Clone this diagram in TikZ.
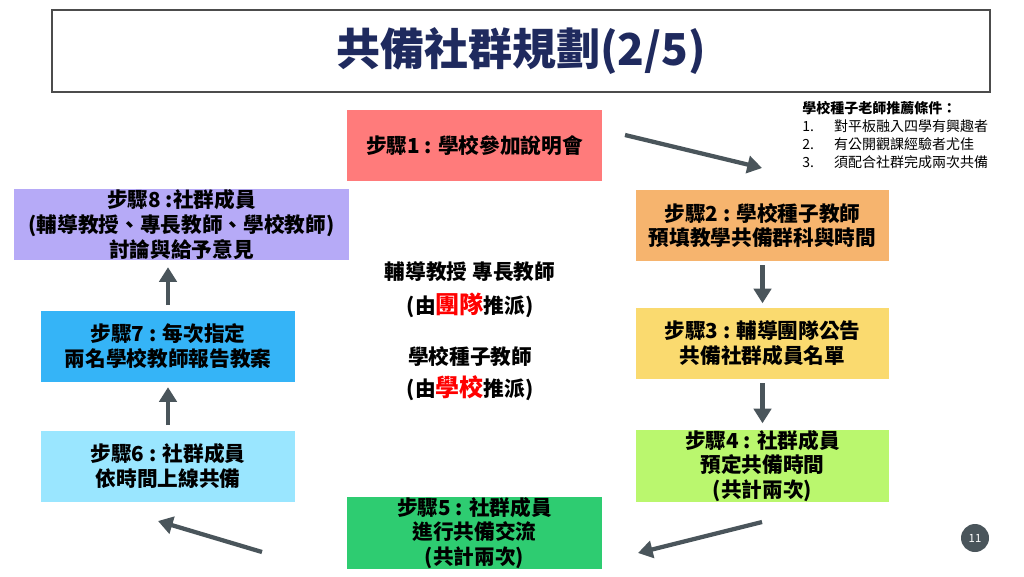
\documentclass[tikz,border=0pt]{standalone}
\usepackage{fontspec}
\setmainfont{Noto Sans CJK TC}
\usetikzlibrary{arrows.meta}
\definecolor{navy}{HTML}{1F2A5E}
\definecolor{arr}{HTML}{4A555B}
\definecolor{c1}{HTML}{FF7B7B}
\definecolor{c2}{HTML}{F6B46E}
\definecolor{c3}{HTML}{FADA6F}
\definecolor{c4}{HTML}{BAF76E}
\definecolor{c5}{HTML}{2ECC71}
\definecolor{c6}{HTML}{9AE6FF}
\definecolor{c7}{HTML}{35B4F7}
\definecolor{c8}{HTML}{B6AAF7}
\tikzset{
 stepbox/.style={minimum width=#1*0.75pt, minimum height=71*0.75pt, inner sep=0pt, align=center, font=\fontsize{15.5}{18.5}\selectfont\bfseries},
 conn/.style={draw=arr, line width=3.2pt, -{Triangle[length=11pt,width=13pt]}},
 ctext/.style={font=\fontsize{15.5}{18}\selectfont\bfseries}
}
\begin{document}
\begin{tikzpicture}[x=0.75pt,y=-0.75pt]
\useasboundingbox (0,0) rectangle (1024,576);
\fill[white] (0,0) rectangle (1024,576);
\draw[line width=1.2pt, draw=black!70] (52,10) rectangle (990,92);
\node[font=\fontsize{33}{36}\selectfont\bfseries, text=navy] (title) at (521,51) {共備社群規劃(2/5)};
\node[stepbox=255, fill=c1] (s1) at (474.5,145.5) {步驟1 : 學校參加說明會};
\node[stepbox=253, fill=c2] (s2) at (762.5,225.5) {步驟2 : 學校種子教師\\預填教學共備群科與時間};
\node[stepbox=253, fill=c3] (s3) at (762.5,343.5) {步驟3 : 輔導團隊公告\\共備社群成員名單};
\node[stepbox=253, fill=c4] (s4) at (762.5,466) {步驟4 : 社群成員\\預定共備時間\\(共計兩次)};
\node[stepbox=255, fill=c5] (s5) at (474.5,533) {步驟5 : 社群成員\\進行共備交流\\(共計兩次)};
\node[stepbox=254, fill=c6] (s6) at (168,466) {步驟6 : 社群成員\\依時間上線共備};
\node[stepbox=254, fill=c7] (s7) at (168,346) {步驟7 : 每次指定\\兩名學校教師報告教案};
\node[stepbox=335, fill=c8] (s8) at (181.5,224.5) {步驟8 :社群成員\\(輔導教授、專長教師、學校教師)\\討論與給予意見};
\coordinate (a1) at (625,135); \coordinate (b1) at (762,168);
\draw[conn] (a1) -- (b1);
\draw[conn] (s2.south) ++(0,4) -- ++(0,38);
\draw[conn] (s3.south) ++(0,4) -- ++(0,40);
\coordinate (a4) at (762,522); \coordinate (b4) at (638,553);
\draw[conn] (a4) -- (b4);
\coordinate (a5) at (262,552); \coordinate (b5) at (158,521);
\draw[conn] (a5) -- (b5);
\draw[conn] (s6.north) ++(0,-5) -- ++(0,-38);
\draw[conn] (s7.north) ++(0,-5) -- ++(0,-38);
\node[ctext] (t1) at (470,272) {輔導教授 專長教師};
\node[ctext] (t2) at (470,305) {(由{\color{red}\fontsize{18}{20}\selectfont 團隊}推派)};
\node[ctext] (t3) at (470,357) {學校種子教師};
\node[ctext] (t4) at (470,388) {(由{\color{red}\fontsize{18}{20}\selectfont 學校}推派)};
\node[anchor=north west, align=left, font=\fontsize{10.5}{13.5}\selectfont, inner sep=0pt] (note) at (802,101)
 {\textbf{學校種子老師推薦條件：}\\1.\quad\ \ 對平板融入四學有興趣者\\2.\quad\ \ 有公開觀課經驗者尤佳\\3.\quad\ \ 須配合社群完成兩次共備};
\node[circle, fill=arr, minimum size=21pt, inner sep=0pt, text=white, font=\fontsize{8.5}{10}\selectfont] (pg) at (975,538) {11};
\end{tikzpicture}
\end{document}
